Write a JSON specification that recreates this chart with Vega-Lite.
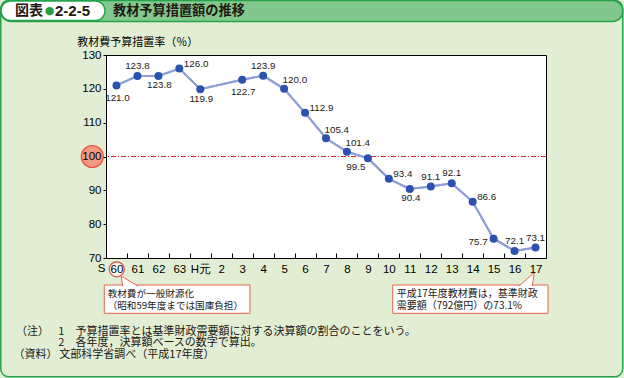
{
  "$schema": "https://vega.github.io/schema/vega-lite/v6.json",
  "width": 440,
  "height": 203,
  "autosize": "none",
  "padding": {"left": 106, "top": 55, "right": 78, "bottom": 120},
  "background": "#E2EED3",
  "config": {
    "view": {"fill": "white", "stroke": "black", "strokeWidth": 1},
    "font": "Liberation Sans",
    "axis": {"labelOverlap": false}
  },
  "data": {"values": [
    {"year": "60", "rate": 121.0},
    {"year": "61", "rate": 123.8},
    {"year": "62", "rate": 123.8},
    {"year": "63", "rate": 126.0},
    {"year": "H元", "rate": 119.9},
    {"year": "3", "rate": 122.7},
    {"year": "4", "rate": 123.9},
    {"year": "5", "rate": 120.0},
    {"year": "6", "rate": 112.9},
    {"year": "7", "rate": 105.4},
    {"year": "8", "rate": 101.4},
    {"year": "9", "rate": 99.5},
    {"year": "10", "rate": 93.4},
    {"year": "11", "rate": 90.4},
    {"year": "12", "rate": 91.1},
    {"year": "13", "rate": 92.1},
    {"year": "14", "rate": 86.6},
    {"year": "15", "rate": 75.7},
    {"year": "16", "rate": 72.1},
    {"year": "17", "rate": 73.1}
  ]},
  "layer": [
    {
      "mark": {"type": "line", "color": "#8E9FD7", "strokeWidth": 2},
      "encoding": {
        "x": {
          "field": "year", "type": "nominal",
          "scale": {"type": "point", "padding": 0.5, "domain": ["60", "61", "62", "63", "H元", "2", "3", "4", "5", "6", "7", "8", "9", "10", "11", "12", "13", "14", "15", "16", "17"]},
          "axis": {"title": null, "labelAngle": 0, "labelFont": "Liberation Sans", "labelFontSize": 11.5, "labelColor": "black", "labelOverlap": false, "tickSize": -5, "tickColor": "black", "tickOffset": -10.476, "labelOffset": 10.476, "labelPadding": 10, "domainColor": "black", "zindex": 1}
        },
        "y": {
          "field": "rate", "type": "quantitative",
          "scale": {"domain": [70, 130], "nice": false, "zero": false},
          "axis": {"title": "教材費予算措置率（％）", "tickCount": 6, "labelOverlap": false, "labelSeparation": -40, "labelBound": false, "labelFlush": false, "grid": false, "tickSize": 3, "labelPadding": 2, "labelFont": "Liberation Sans", "labelFontSize": 11.5, "labelColor": "black", "tickColor": "black", "domainColor": "black", "titleAngle": 0, "titleX": -29.3, "titleY": -12.7, "titleAlign": "left", "titleBaseline": "middle", "titleFont": "Noto Sans CJK JP", "titleFontSize": 11, "titleFontWeight": "normal", "titleColor": "black", "zindex": 1}
        },
        "order": {"value": null}
      }
    },
    {
      "data": {"values": [{}]},
      "mark": {"type": "rect", "filled": false, "stroke": "#27A249", "strokeWidth": 1.5, "cornerRadius": 8, "xOffset": -115.7, "x2Offset": 87.2},
      "encoding": {"x": {"datum": "60"}, "x2": {"datum": "17"}, "y": {"datum": 146.1}, "y2": {"datum": 34.9}}
    },
    {
      "data": {"values": [{}]},
      "mark": {"type": "rect", "fill": "#82C88D", "stroke": "#27A249", "strokeWidth": 1.5, "cornerRadius": 10, "xOffset": -115.7, "x2Offset": 87.2},
      "encoding": {"x": {"datum": "60"}, "x2": {"datum": "17"}, "y": {"datum": 146.1}, "y2": {"datum": 139.9}}
    },
    {
      "data": {"values": [{}]},
      "mark": {"type": "rect", "fill": "white", "stroke": "#27A249", "strokeWidth": 1.5, "cornerRadius": 9.5, "xOffset": -115.5, "x2Offset": -11.5},
      "encoding": {"x": {"datum": "60"}, "x2": {"datum": "60"}, "y": {"datum": 145.96}, "y2": {"datum": 140.2}}
    },
    {
      "data": {"values": [{}]},
      "mark": {"type": "text", "text": "図表", "font": "Noto Sans CJK JP", "fontWeight": "bold", "fontSize": 14, "align": "left", "baseline": "middle", "dx": -101.5, "color": "#231815"},
      "encoding": {"x": {"datum": "60"}, "y": {"datum": 143.0}}
    },
    {
      "data": {"values": [{}]},
      "mark": {"type": "text", "text": "●", "font": "DejaVu Sans", "fontSize": 11, "align": "left", "baseline": "middle", "dx": -71.8, "color": "#23A043"},
      "encoding": {"x": {"datum": "60"}, "y": {"datum": 143.0}}
    },
    {
      "data": {"values": [{}]},
      "mark": {"type": "text", "text": "2-2-5", "font": "Liberation Sans", "fontWeight": "bold", "fontSize": 15, "align": "left", "baseline": "middle", "dx": -61.5, "color": "#231815"},
      "encoding": {"x": {"datum": "60"}, "y": {"datum": 143.0}}
    },
    {
      "data": {"values": [{}]},
      "mark": {"type": "text", "text": "教材予算措置額の推移", "font": "Noto Sans CJK JP", "fontWeight": "bold", "fontSize": 13.2, "align": "left", "baseline": "middle", "dx": -3.5, "color": "#231815"},
      "encoding": {"x": {"datum": "60"}, "y": {"datum": 143.0}}
    },
    {
      "data": {"values": [{}]},
      "mark": {"type": "rule", "color": "#E5321F", "strokeWidth": 1, "strokeDash": [5, 2, 1, 2]},
      "encoding": {"y": {"datum": 100}}
    },
    {
      "mark": {"type": "line", "color": "#8E9FD7", "strokeWidth": 2},
      "encoding": {"x": {"field": "year", "type": "nominal"}, "y": {"field": "rate", "type": "quantitative"}, "order": {"value": null}}
    },
    {
      "mark": {"type": "point", "filled": true, "size": 64, "color": "#2A52AE", "opacity": 1},
      "encoding": {"x": {"field": "year", "type": "nominal"}, "y": {"field": "rate", "type": "quantitative"}}
    },
    {
      "transform": [{"filter": {"field": "year", "oneOf": ["60", "3"]}}],
      "mark": {"type": "text", "fontSize": 9.8, "font": "Liberation Sans", "align": "center", "baseline": "middle", "dy": 12.5, "dx": 1, "color": "#231815"},
      "encoding": {"x": {"field": "year", "type": "nominal"}, "y": {"field": "rate", "type": "quantitative"}, "text": {"field": "rate", "format": ".1f"}}
    },
    {
      "transform": [{"filter": {"field": "year", "oneOf": ["62", "H元", "11"]}}],
      "mark": {"type": "text", "fontSize": 9.8, "font": "Liberation Sans", "align": "center", "baseline": "middle", "dy": 9.5, "dx": 1, "color": "#231815"},
      "encoding": {"x": {"field": "year", "type": "nominal"}, "y": {"field": "rate", "type": "quantitative"}, "text": {"field": "rate", "format": ".1f"}}
    },
    {
      "transform": [{"filter": {"field": "year", "oneOf": ["61", "4", "12", "13", "16", "17"]}}],
      "mark": {"type": "text", "fontSize": 9.8, "font": "Liberation Sans", "align": "center", "baseline": "middle", "dy": -10, "color": "#231815"},
      "encoding": {"x": {"field": "year", "type": "nominal"}, "y": {"field": "rate", "type": "quantitative"}, "text": {"field": "rate", "format": ".1f"}}
    },
    {
      "transform": [{"filter": {"field": "year", "oneOf": ["63", "6", "10", "14"]}}],
      "mark": {"type": "text", "fontSize": 9.8, "font": "Liberation Sans", "align": "left", "baseline": "middle", "dx": 4.5, "dy": -5, "color": "#231815"},
      "encoding": {"x": {"field": "year", "type": "nominal"}, "y": {"field": "rate", "type": "quantitative"}, "text": {"field": "rate", "format": ".1f"}}
    },
    {
      "transform": [{"filter": {"field": "year", "oneOf": ["5", "7", "8"]}}],
      "mark": {"type": "text", "fontSize": 9.8, "font": "Liberation Sans", "align": "left", "baseline": "middle", "dx": -1.5, "dy": -8.5, "color": "#231815"},
      "encoding": {"x": {"field": "year", "type": "nominal"}, "y": {"field": "rate", "type": "quantitative"}, "text": {"field": "rate", "format": ".1f"}}
    },
    {
      "transform": [{"filter": {"field": "year", "equal": "9"}}],
      "mark": {"type": "text", "fontSize": 9.8, "font": "Liberation Sans", "align": "right", "baseline": "middle", "dx": -2.5, "dy": 9, "color": "#231815"},
      "encoding": {"x": {"field": "year", "type": "nominal"}, "y": {"field": "rate", "type": "quantitative"}, "text": {"field": "rate", "format": ".1f"}}
    },
    {
      "transform": [{"filter": {"field": "year", "equal": "15"}}],
      "mark": {"type": "text", "fontSize": 9.8, "font": "Liberation Sans", "align": "right", "baseline": "middle", "dx": -6, "dy": 3, "color": "#231815"},
      "encoding": {"x": {"field": "year", "type": "nominal"}, "y": {"field": "rate", "type": "quantitative"}, "text": {"field": "rate", "format": ".1f"}}
    },
    {
      "data": {"values": [{}]},
      "mark": {"type": "point", "shape": "circle", "filled": true, "size": 484, "fill": "#F59A80", "stroke": "#E5533C", "strokeWidth": 1.2, "opacity": 1, "xOffset": -24.2},
      "encoding": {"x": {"datum": "60"}, "y": {"datum": 100}}
    },
    {
      "data": {"values": [{}]},
      "mark": {"type": "point", "shape": "circle", "filled": true, "size": 225, "fill": "white", "stroke": "#E0503A", "strokeWidth": 1.2, "opacity": 1, "xOffset": 0.3},
      "encoding": {"x": {"datum": "60"}, "y": {"datum": 66.66}}
    },
    {
      "data": {"values": [{}]},
      "mark": {"type": "text", "text": "S", "font": "Liberation Sans", "fontSize": 11.5, "align": "center", "baseline": "middle", "dx": -15, "color": "black"},
      "encoding": {"x": {"datum": "60"}, "y": {"datum": 66.66}}
    },
    {
      "data": {"values": [{}]},
      "mark": {"type": "rect", "fill": "white", "stroke": "#E4664C", "strokeWidth": 1, "xOffset": -12.2, "x2Offset": 7.8},
      "encoding": {"x": {"datum": "60"}, "x2": {"datum": "3"}, "y": {"datum": 62.02}, "y2": {"datum": 53.65}}
    },
    {
      "data": {"values": [{}]},
      "mark": {"type": "rect", "fill": "white", "stroke": "#E4664C", "strokeWidth": 1, "xOffset": 3.85, "x2Offset": 12.5},
      "encoding": {"x": {"datum": "10"}, "x2": {"datum": "17"}, "y": {"datum": 62.02}, "y2": {"datum": 53.65}}
    },
    {
      "data": {"values": [{}]},
      "mark": {"type": "point", "shape": "M-0.91,0.66 L-1.1,-0.62 L1.04,0.66", "filled": true, "size": 256, "fill": "white", "stroke": "#E4664C", "strokeWidth": 1, "opacity": 1, "xOffset": 13.5},
      "encoding": {"x": {"datum": "60"}, "y": {"datum": 63.2}}
    },
    {
      "data": {"values": [{}]},
      "mark": {"type": "point", "shape": "M-1,0.875 L0.91,-0.81 L0.66,0.875", "filled": true, "size": 256, "fill": "white", "stroke": "#E4664C", "strokeWidth": 1, "opacity": 1, "xOffset": -8.5},
      "encoding": {"x": {"datum": "17"}, "y": {"datum": 63.79}}
    },
    {
      "data": {"values": [{}]},
      "mark": {"type": "text", "text": "教材費が一般財源化", "font": "Noto Sans CJK JP", "fontSize": 9.6, "align": "left", "baseline": "middle", "dx": -8.8, "color": "#231815"},
      "encoding": {"x": {"datum": "60"}, "y": {"datum": 59.4}}
    },
    {
      "data": {"values": [{}]},
      "mark": {"type": "text", "text": "（昭和59年度までは国庫負担）", "font": "Noto Sans CJK JP", "fontSize": 9.6, "align": "left", "baseline": "middle", "dx": -8.8, "color": "#231815"},
      "encoding": {"x": {"datum": "60"}, "y": {"datum": 55.9}}
    },
    {
      "data": {"values": [{}]},
      "mark": {"type": "text", "text": "平成17年度教材費は，基準財政", "font": "Noto Sans CJK JP", "fontSize": 10, "align": "left", "baseline": "middle", "dx": 7.85, "color": "#231815"},
      "encoding": {"x": {"datum": "10"}, "y": {"datum": 59.4}}
    },
    {
      "data": {"values": [{}]},
      "mark": {"type": "text", "text": "需要額（792億円）の73.1%", "font": "Noto Sans CJK JP", "fontSize": 10, "align": "left", "baseline": "middle", "dx": 7.85, "color": "#231815"},
      "encoding": {"x": {"datum": "10"}, "y": {"datum": 55.9}}
    },
    {
      "data": {"values": [{}]},
      "mark": {"type": "text", "text": "（注）", "font": "Noto Sans CJK JP", "fontSize": 11, "align": "left", "baseline": "middle", "dx": -100.5, "color": "#231815"},
      "encoding": {"x": {"datum": "60"}, "y": {"datum": 48.22}}
    },
    {
      "data": {"values": [{}]},
      "mark": {"type": "text", "text": "1　予算措置率とは基準財政需要額に対する決算額の割合のことをいう。", "font": "Noto Sans CJK JP", "fontSize": 11, "align": "left", "baseline": "middle", "dx": -58.2, "color": "#231815"},
      "encoding": {"x": {"datum": "60"}, "y": {"datum": 48.22}}
    },
    {
      "data": {"values": [{}]},
      "mark": {"type": "text", "text": "2　各年度，決算額ベースの数字で算出。", "font": "Noto Sans CJK JP", "fontSize": 11, "align": "left", "baseline": "middle", "dx": -58.2, "color": "#231815"},
      "encoding": {"x": {"datum": "60"}, "y": {"datum": 44.79}}
    },
    {
      "data": {"values": [{}]},
      "mark": {"type": "text", "text": "（資料）", "font": "Noto Sans CJK JP", "fontSize": 11, "align": "left", "baseline": "middle", "dx": -103, "color": "#231815"},
      "encoding": {"x": {"datum": "60"}, "y": {"datum": 41.33}}
    },
    {
      "data": {"values": [{}]},
      "mark": {"type": "text", "text": "文部科学省調べ（平成17年度）", "font": "Noto Sans CJK JP", "fontSize": 11, "align": "left", "baseline": "middle", "dx": -57.2, "color": "#231815"},
      "encoding": {"x": {"datum": "60"}, "y": {"datum": 41.33}}
    }
  ]
}
